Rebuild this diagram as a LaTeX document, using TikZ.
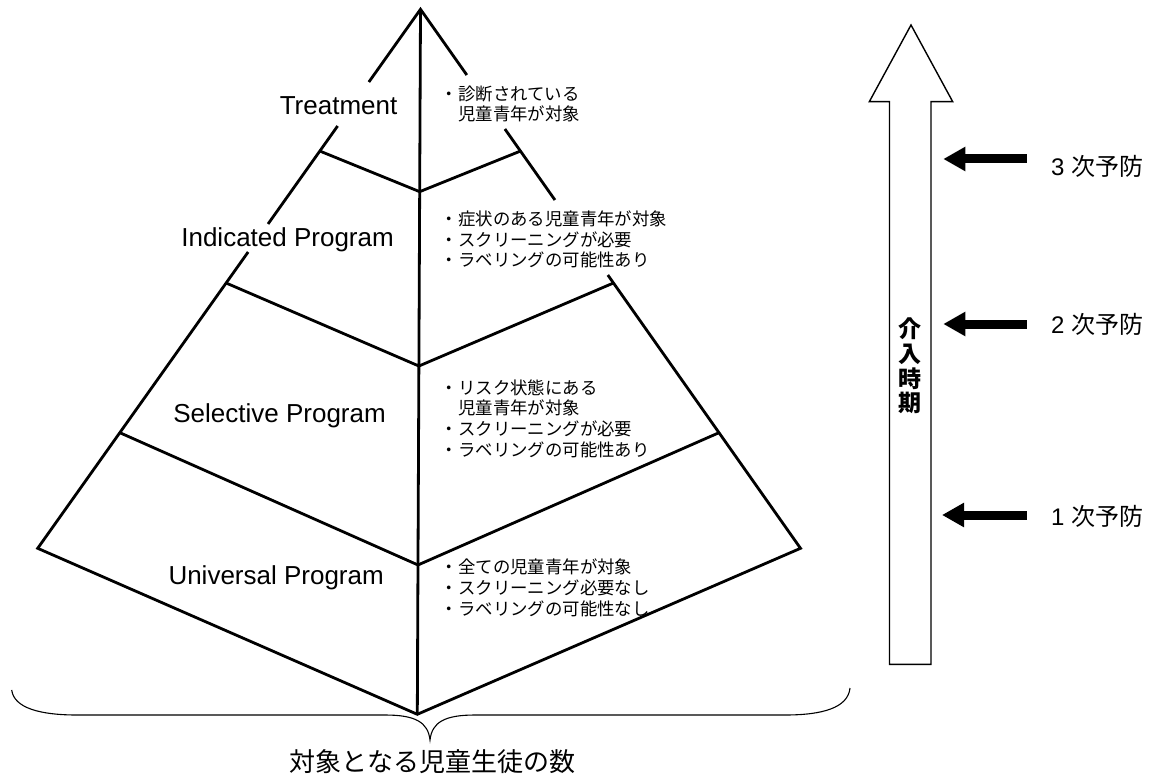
\documentclass[tikz,border=0pt]{standalone}
\usepackage{fontspec}
\setmainfont{Liberation Sans}
\newfontfamily\jp{Noto Sans CJK JP}
\usetikzlibrary{arrows.meta,calc}
\begin{document}
\begin{tikzpicture}[x=1pt,y=-1pt,
  pyr/.style={line width=2.8pt, line join=miter},
  en/.style={font=\fontsize{26}{30}\selectfont, inner sep=0, anchor=base east},
  jpt/.style={font=\jp\fontsize{17.4}{20.6}\selectfont, inner sep=0, anchor=base west, align=left},
  prev/.style={font=\jp\fontsize{24}{28}\selectfont, inner sep=0, anchor=west},
  sarrow/.style={line width=9pt, -{Triangle[length=22pt,width=23pt]}},
  bigarrow/.style={line width=1.4pt, line join=miter},
  bracestyle/.style={line width=1.1pt}]
\useasboundingbox (0,0) rectangle (1155,778);

% pyramid geometry
\coordinate (A) at (420.5,9.3);
\coordinate (L) at (37.7,548.3);
\coordinate (R) at (800.5,548.3);
\coordinate (B) at (417.3,714.3);

% outer edges (with gaps behind the labels)
\draw[pyr] ($(A)!0.1349!(L)$) -- (A) -- ($(A)!0.1219!(R)$);
\draw[pyr] ($(A)!0.2165!(L)$) -- ($(A)!0.3983!(L)$);
\draw[pyr] ($(A)!0.2221!(R)$) -- ($(A)!0.3538!(R)$);
\draw[pyr] ($(A)!0.4503!(L)$) -- (L) -- (B) -- (R) -- ($(A)!0.4930!(R)$);
% front edge
\draw[pyr] (A) -- (B);
% level dividers
\draw[pyr] ($(A)!0.263!(L)$) -- ($(A)!0.2587!(B)$) -- ($(A)!0.263!(R)$);
\draw[pyr] ($(A)!0.5078!(L)$) -- ($(A)!0.506!(B)$) -- ($(A)!0.5078!(R)$);
\draw[pyr] ($(A)!0.7855!(L)$) -- ($(A)!0.7882!(B)$) -- ($(A)!0.7855!(R)$);

% level names
\node[en] (treat) at (397.5,115) {Treatment};
\node[en] (ind) at (394,246.7) {Indicated Program};
\node[en] (sel) at (386,422.3) {Selective Program};
\node[en] (uni) at (384,584) {Universal Program};

% level descriptions (base = baseline of last line)
\node[jpt] (tj) at (440.6,120.7) {・診断されている\\\phantom{・}児童青年が対象};
\node[jpt] (ij) at (440.6,266.7) {・症状のある児童青年が対象\\・スクリーニングが必要\\・ラベリングの可能性あり};
\node[jpt] (sj) at (440.6,456) {・リスク状態にある\\\phantom{・}児童青年が対象\\・スクリーニングが必要\\・ラベリングの可能性あり};
\node[jpt] (uj) at (440.6,615) {・全ての児童青年が対象\\・スクリーニング必要なし\\・ラベリングの可能性なし};

% brace and its label
\draw[bracestyle] (11.7,690) .. controls (14,708) and (40,715) .. (77,715) -- (385,715)
  .. controls (415,715) and (428,722) .. (430,740)
  .. controls (432,722) and (445,715) .. (475,715) -- (785,715)
  .. controls (822,715) and (848,708) .. (850,688);
\node[font=\jp\fontsize{26}{30}\selectfont, inner sep=0, anchor=base] (cnt) at (432.5,771) {対象となる児童生徒の数};

% big arrow (intervention timing)
\draw[bigarrow] (889.5,664.3) -- (889.5,101.7) -- (869.3,101.7) -- (911,25) -- (952.7,101.7) -- (931,101.7) -- (931,664.3) -- cycle;
\node[font=\jp\bfseries\fontsize{23}{24.7}\selectfont, align=center, inner sep=0] (kai) at (910,366) {介\\入\\時\\期};

% prevention levels
\node[prev] (p3) at (1051,166) {{\rmfamily 3 }次予防};
\node[prev] (p2) at (1051,324) {{\rmfamily 2 }次予防};
\node[prev] (p1) at (1051,516) {{\rmfamily 1 }次予防};
\coordinate (t3) at (1026.7,159);  \coordinate (h3) at (943.3,159);
\coordinate (t2) at (1026.7,324);  \coordinate (h2) at (943.3,324);
\coordinate (t1) at (1026.7,515);  \coordinate (h1) at (942,515);
\draw[sarrow] (t3) -- (h3);
\draw[sarrow] (t2) -- (h2);
\draw[sarrow] (t1) -- (h1);
\end{tikzpicture}
\end{document}
